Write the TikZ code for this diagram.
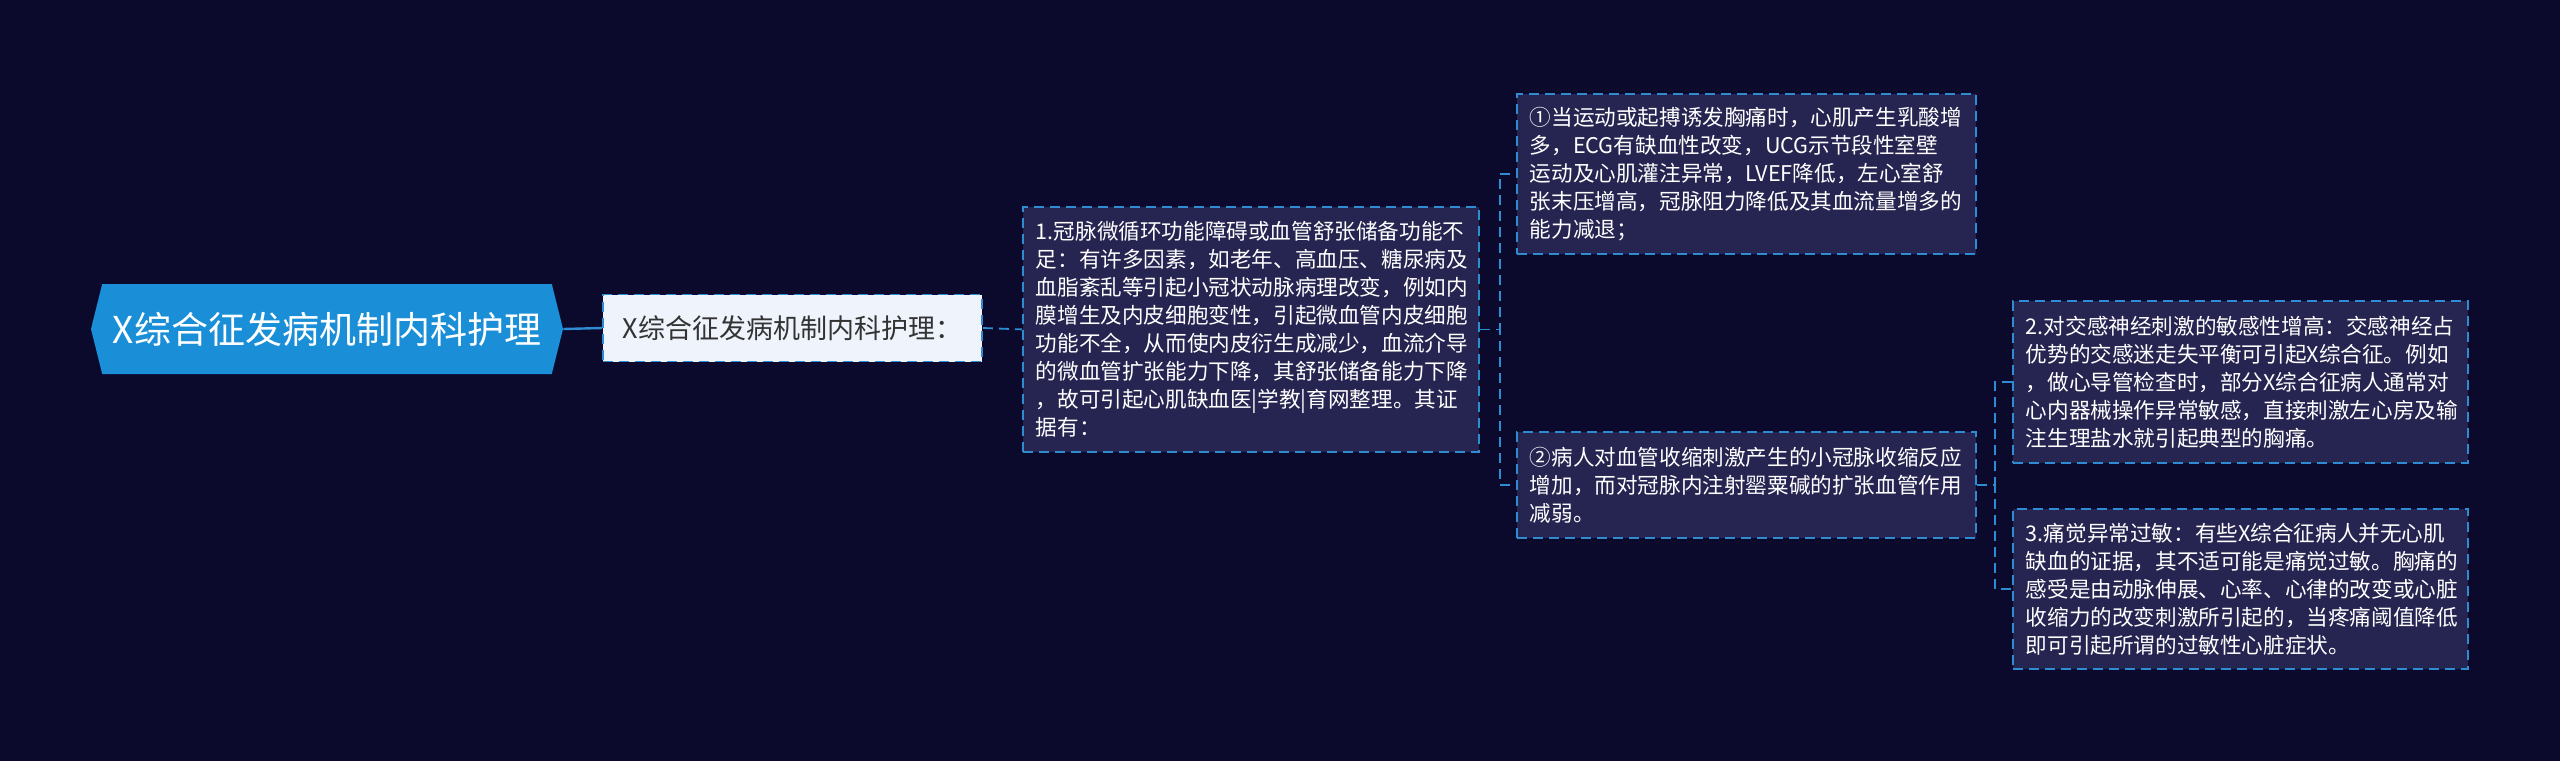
\documentclass[tikz,border=0pt]{standalone}
\usepackage{fontspec}
\setmainfont{Noto Sans CJK SC}
\usepackage{tikz}
\usepackage{xcolor}
\usetikzlibrary{positioning, arrows.meta, calc, shapes.symbols}
\definecolor{bgcolor}{HTML}{0C0A2C}
\definecolor{rootcolor}{HTML}{1A8FD8}
\definecolor{linecolor}{HTML}{2D8CD2}
\definecolor{boxcolor}{HTML}{262450}
\definecolor{lightbox}{HTML}{EEF3FC}

\begin{document}
\begin{tikzpicture}[x=0.5pt, y=-0.5pt,
    leaf/.style={draw=linecolor, dashed, dash pattern=on 5pt off 3pt, line width=0.9pt,
      fill=boxcolor, text=white, align=left, anchor=north west, inner xsep=6.5pt,
      font=\fontsize{10.8}{14}\selectfont},
    link/.style={draw=linecolor, dashed, dash pattern=on 5pt off 3pt, line width=0.9pt}]
        % background
        \fill[bgcolor] (0,0) rectangle (2560,761);
        % root and first topic
        \node[shape=signal, signal to=east and west, signal pointer angle=152, fill=rootcolor,
          text=white, minimum width=236pt, minimum height=45pt, inner sep=0pt,
          font=\fontsize{18.5}{22}\selectfont] (root) at (327,329) {X综合征发病机制内科护理};
        \node[draw=linecolor, dashed, dash pattern=on 5pt off 3pt, line width=0.9pt, fill=lightbox,
          text=black!80, minimum width=189.5pt, minimum height=33.5pt, anchor=west,
          font=\fontsize{13.5}{16}\selectfont] (topic) at (602,328) {X综合征发病机制内科护理：};
        % level 2
        \node[leaf, text width=215pt, minimum height=122.5pt] (coronary) at (1022,206)
          {1.冠脉微循环功能障碍或血管舒张储备功能不\\足：有许多因素，如老年、高血压、糖尿病及\\血脂紊乱等引起小冠状动脉病理改变，例如内\\膜增生及内皮细胞变性，引起微血管内皮细胞\\功能不全，从而使内皮衍生成减少，血流介导\\的微血管扩张能力下降，其舒张储备能力下降\\，故可引起心肌缺血医|学教|育网整理。其证\\据有：};
        % level 3
        \node[leaf, text width=216.5pt, minimum height=80pt] (exercise) at (1516,93)
          {①当运动或起搏诱发胸痛时，心肌产生乳酸增\\多，ECG有缺血性改变，UCG示节段性室壁\\运动及心肌灌注异常，LVEF降低，左心室舒\\张末压增高，冠脉阻力降低及其血流量增多的\\能力减退；};
        \node[leaf, text width=216.5pt, minimum height=53pt] (vaso) at (1516,431)
          {②病人对血管收缩刺激产生的小冠脉收缩反应\\增加，而对冠脉内注射罂粟碱的扩张血管作用\\减弱。};
        % level 4
        \node[leaf, text width=214.5pt, minimum height=81pt] (sympa) at (2012,300)
          {2.对交感神经刺激的敏感性增高：交感神经占\\优势的交感迷走失平衡可引起X综合征。例如\\，做心导管检查时，部分X综合征病人通常对\\心内器械操作异常敏感，直接刺激左心房及输\\注生理盐水就引起典型的胸痛。};
        \node[leaf, text width=214.5pt, minimum height=80pt] (pain) at (2012,508)
          {3.痛觉异常过敏：有些X综合征病人并无心肌\\缺血的证据，其不适可能是痛觉过敏。胸痛的\\感受是由动脉伸展、心率、心律的改变或心脏\\收缩力的改变刺激所引起的，当疼痛阈值降低\\即可引起所谓的过敏性心脏症状。};
        % connectors
        \draw[linecolor, line width=1.2pt] (root.east) -- (topic.west);
        \draw[link] (topic.east) -- (coronary.west);
        \draw[link] (coronary.east) -- ++(10pt,0) |- (exercise.west);
        \draw[link] (coronary.east) -- ++(10pt,0) |- (vaso.west);
        \draw[link] (vaso.east) -- ++(9pt,0) |- (sympa.west);
        \draw[link] (vaso.east) -- ++(9pt,0) |- (pain.west);
      \end{tikzpicture}
\end{document}
